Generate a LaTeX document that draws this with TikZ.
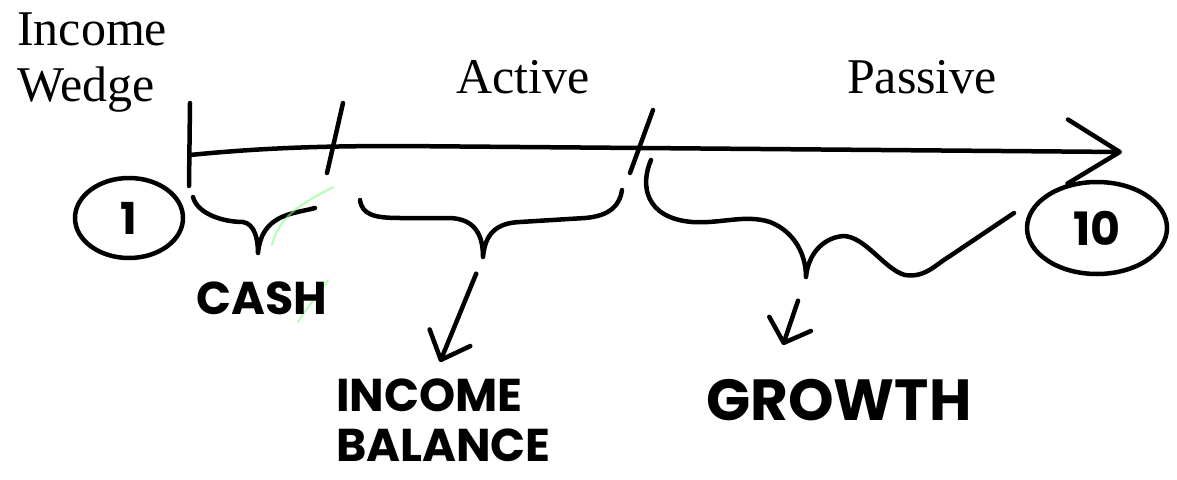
\documentclass[tikz,border=0pt]{standalone}
\usepackage{fontspec}
\setmainfont{Liberation Serif}
\newfontfamily\handfont{Poppins}
\usetikzlibrary{arrows.meta,shapes.geometric}

\begin{document}
\begin{tikzpicture}[x=1pt, y=-1pt,
    sketch/.style={line width=4.5pt, line cap=round, line join=round},
    pointer/.style={sketch, -{Straight Barb[length=#1, width=44pt, round]}},
    ghost/.style={line width=2pt, line cap=round, green!50!white, opacity=0.6},
    print/.style={inner sep=0pt, font=\fontsize{50}{56}\selectfont},
    hand/.style={inner sep=0pt, font=\handfont\bfseries\fontsize{#1}{50}\selectfont},
    ring/.style={ellipse, draw, line width=4.5pt, inner sep=0pt}]
    % Frame
    \useasboundingbox[fill=white] (0,0) rectangle (1177,479);

    % Headings
    \node[print, align=left, anchor=north west] (wedge) at (17,13) {Income\\Wedge};
    \node[print, anchor=base] (active) at (523,93) {Active};
    \node[print, anchor=base] (passive) at (922,93) {Passive};

    % Time line and ticks
    \coordinate (axisstart) at (190,155);
    \coordinate (axisend) at (1122,152);
    \draw[sketch, -{Straight Barb[length=52pt, width=64pt, round]}] (axisstart) .. controls (260,148) and (320,146) .. (400,146) -- (axisend);
    \foreach \xa/\ya/\xb/\yb in {190/103/189/186, 343/103/327/173, 653/110/630/173}
        \draw[sketch] (\xa,\ya) -- (\xb,\yb);

    % Year markers
    \node[ring, minimum width=108pt, minimum height=80pt, hand=44] (one) at (129,218) {1};
    \node[ring, minimum width=140pt, minimum height=92pt, hand=46] (ten) at (1097,228) {10};

    % Braces
    \draw[sketch] (193,197) .. controls (198,215) and (225,222) .. (243,222)
        .. controls (255,224) and (258,240) .. (258,253) coordinate (cashtip)
        .. controls (260,232) and (270,220) .. (290,214) .. controls (300,211) and (308,210) .. (315,208);
    \draw[sketch] (360,200) .. controls (362,215) and (375,218) .. (400,218) -- (450,218)
        .. controls (475,219) and (483,235) .. (483,257) coordinate (incometip)
        .. controls (485,235) and (495,223) .. (520,222) -- (585,218) .. controls (610,216) and (620,205) .. (622,190);
    \draw[sketch] (651,160) .. controls (640,185) and (645,218) .. (692,222)
        .. controls (720,224) and (745,214) .. (770,222) .. controls (795,232) and (806,255) .. (806,277) coordinate (growthtip)
        .. controls (808,255) and (822,238) .. (843,236) .. controls (865,236) and (885,270) .. (905,275)
        .. controls (925,278) and (935,265) .. (950,256) -- (1014,213);
    \draw[ghost] (333,187) .. controls (310,200) and (280,212) .. (272,245);
    \draw[ghost] (328,280) .. controls (318,295) and (305,310) .. (298,322);

    % Labels
    \node[hand=46] (cash) at (262,298) {CASH};
    \node[hand=46, align=left, anchor=north west] (income) at (336,379) {INCOME\\BALANCE};
    \node[hand=58] (growth) at (839,400) {GROWTH};

    % Pointers
    \coordinate (incometo) at (440,362);
    \coordinate (growthto) at (783,345);
    \draw[pointer=24pt, shorten <=18pt] (incometip) -- (incometo);
    \draw[pointer=20pt, shorten <=25pt] (growthtip) -- (growthto);
\end{tikzpicture}
\end{document}
